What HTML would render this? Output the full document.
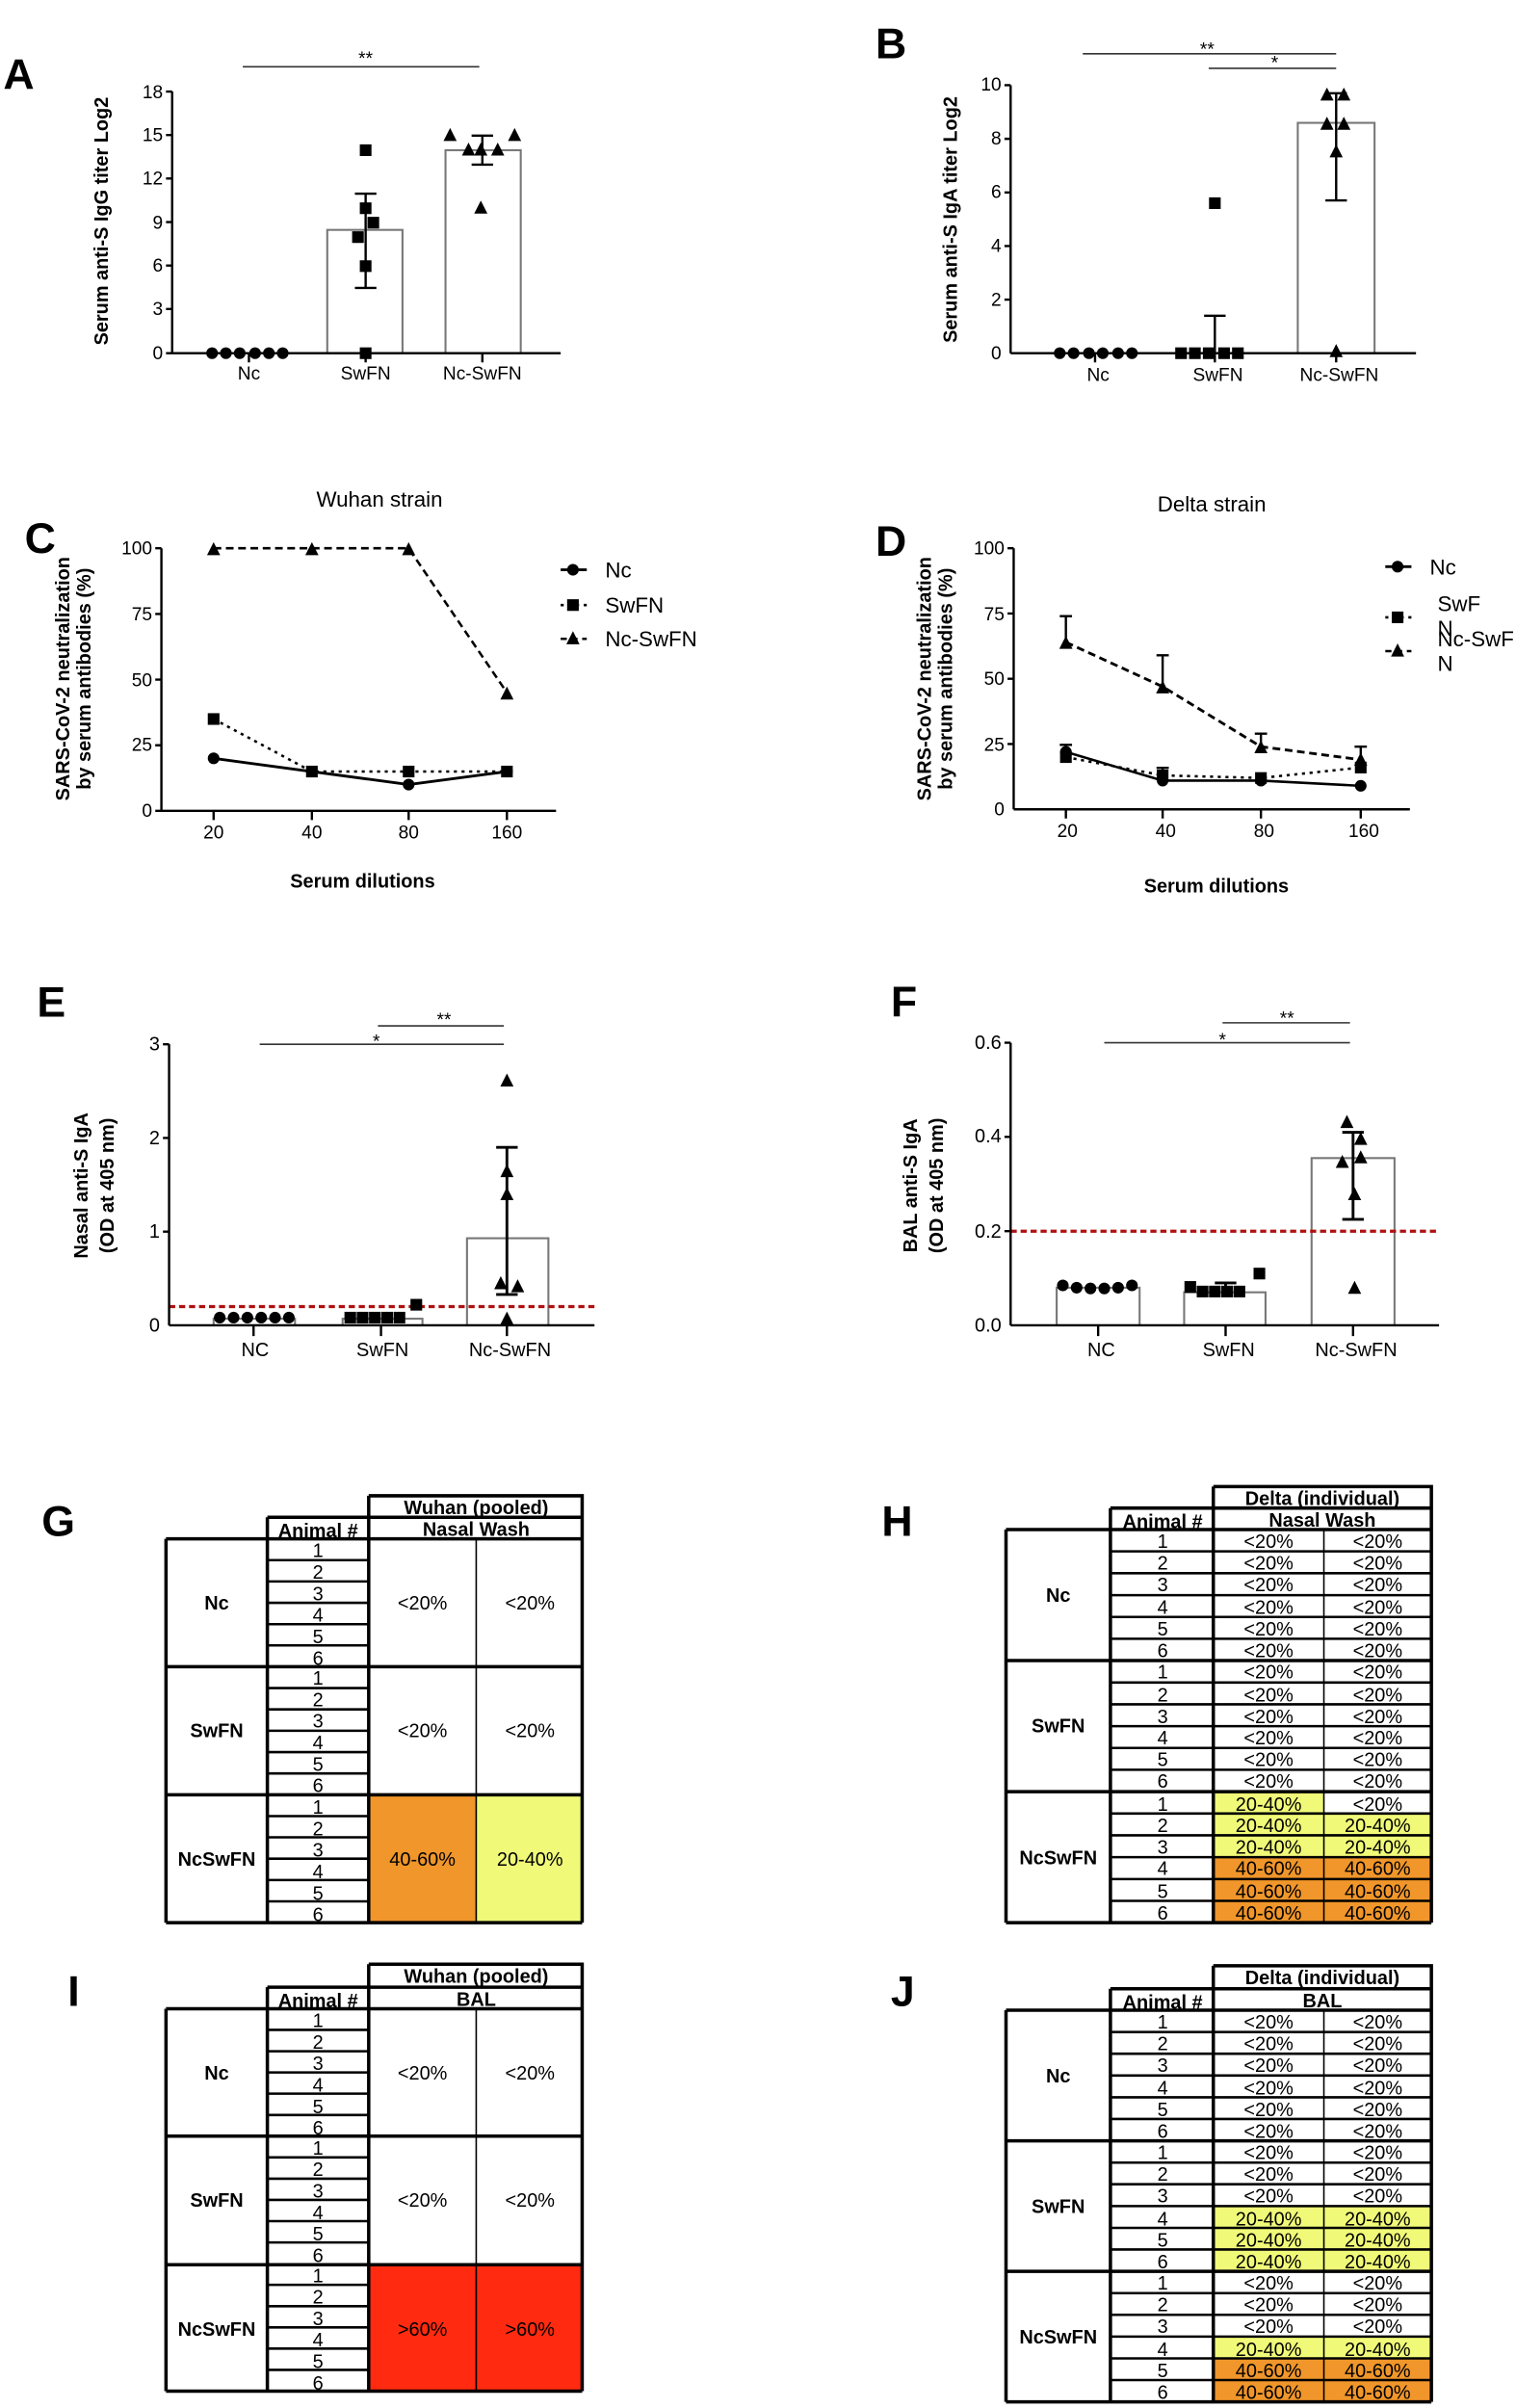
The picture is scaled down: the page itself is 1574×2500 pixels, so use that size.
<!DOCTYPE html>
<html><head><meta charset="utf-8"><style>
html,body{margin:0;padding:0;background:#fff}
svg{display:block}
text{font-family:"Liberation Sans",sans-serif;fill:#000}
.L{font-size:28px;font-weight:bold}
.t{font-size:12px}
.yl{font-size:12.5px;font-weight:bold}
.tt{font-size:14px}
.tb{font-size:12.5px}
.tbb{font-size:12.5px;font-weight:bold}
.ax{stroke:#000;stroke-width:1.5;fill:none}
.bar{stroke:#777;stroke-width:1.3;fill:#fff}
.sig{stroke:#333;stroke-width:1}
.k{stroke:#000;fill:none}
</style></head><body>
<svg width="1574" height="2500" viewBox="0 0 987 1568" xmlns="http://www.w3.org/2000/svg">
<defs>
<circle id="c" r="3.8" fill="#000"/>
<rect id="s" x="-3.8" y="-3.8" width="7.6" height="7.6" fill="#000"/>
<path id="tr" d="M0,-5 L4.3,3.5 L-4.3,3.5Z" fill="#000"/>
</defs>

<!-- ===== Panel A ===== -->
<text class="L" x="2" y="58">A</text>
<line class="sig" x1="158" y1="43.5" x2="312" y2="43.5"/><text class="t" x="238" y="42" text-anchor="middle">**</text>
<rect class="bar" x="213" y="149.7" width="49" height="80.3"/>
<rect class="bar" x="290" y="97.8" width="49" height="132.2"/>
<path class="ax" d="M112,59.6V230M108,59.6H112M108,87.9H112M108,116.2H112M108,144.6H112M108,172.9H112M108,201.2H112M108,230H365M162,230V236M238,230V236M314,230V236"/>
<g class="t" text-anchor="end"><text x="106" y="234">0</text><text x="106" y="205">3</text><text x="106" y="177">6</text><text x="106" y="149">9</text><text x="106" y="120">12</text><text x="106" y="92">15</text><text x="106" y="64">18</text></g>
<g class="t" text-anchor="middle"><text x="162" y="247">Nc</text><text x="238" y="247">SwFN</text><text x="314" y="247">Nc-SwFN</text></g>
<text class="yl" transform="translate(70,144) rotate(-90)" text-anchor="middle">Serum anti-S IgG titer Log2</text>
<path class="k" stroke-width="1.5" d="M238,126.1V187.5M231,126.1H245M231,187.5H245M314,88.3V107.2M307,88.3H321M307,107.2H321"/>
<use href="#c" x="138" y="230"/><use href="#c" x="147" y="230"/><use href="#c" x="156" y="230"/><use href="#c" x="166" y="230"/><use href="#c" x="175" y="230"/><use href="#c" x="184" y="230"/>
<use href="#s" x="238" y="97.8"/><use href="#s" x="238" y="135.6"/><use href="#s" x="243" y="145"/><use href="#s" x="233" y="154.4"/><use href="#s" x="238" y="173.3"/><use href="#s" x="238" y="230"/>
<use href="#tr" x="293" y="88.3"/><use href="#tr" x="335" y="88.3"/><use href="#tr" x="305" y="97.8"/><use href="#tr" x="313" y="97.8"/><use href="#tr" x="324" y="97.8"/><use href="#tr" x="313" y="135.6"/>

<!-- ===== Panel B ===== -->
<text class="L" x="570" y="38">B</text>
<line class="sig" x1="705" y1="35" x2="870" y2="35"/><text class="t" x="786" y="36" text-anchor="middle">**</text>
<line class="sig" x1="787" y1="44.5" x2="870" y2="44.5"/><text class="t" x="830" y="45" text-anchor="middle">*</text>
<rect class="bar" x="845" y="80" width="50" height="150"/>
<path class="ax" d="M658,55.5V230M654,55.5H658M654,90.4H658M654,125.3H658M654,160.2H658M654,195.1H658M658,230H922M713,230V236M791,230V236M870,230V236"/>
<g class="t" text-anchor="end"><text x="652" y="234">0</text><text x="652" y="199">2</text><text x="652" y="164">4</text><text x="652" y="129">6</text><text x="652" y="94">8</text><text x="652" y="59">10</text></g>
<g class="t" text-anchor="middle"><text x="715" y="248">Nc</text><text x="793" y="248">SwFN</text><text x="872" y="248">Nc-SwFN</text></g>
<text class="yl" transform="translate(623,143) rotate(-90)" text-anchor="middle">Serum anti-S IgA titer Log2</text>
<path class="k" stroke-width="1.5" d="M791,205.6V230M784,205.6H798M870,60.7V130.5M863,60.7H877M863,130.5H877"/>
<use href="#c" x="690" y="230"/><use href="#c" x="699" y="230"/><use href="#c" x="709" y="230"/><use href="#c" x="718" y="230"/><use href="#c" x="728" y="230"/><use href="#c" x="737" y="230"/>
<use href="#s" x="769" y="230"/><use href="#s" x="778" y="230"/><use href="#s" x="787" y="230"/><use href="#s" x="797" y="230"/><use href="#s" x="806" y="230"/><use href="#s" x="791" y="132.3"/>
<use href="#tr" x="864" y="62"/><use href="#tr" x="875" y="62"/><use href="#tr" x="864" y="81"/><use href="#tr" x="875" y="81"/><use href="#tr" x="870" y="99"/><use href="#tr" x="870" y="229"/>

<!-- ===== Panel C ===== -->
<text class="tt" x="247" y="330" text-anchor="middle">Wuhan strain</text>
<text class="L" x="16" y="360">C</text>
<path class="ax" d="M105,357V528M101,357H105M101,399.8H105M101,442.5H105M101,485.3H105M101,528H362M139,528V534M203,528V534M266,528V534M330,528V534"/>
<g class="t" text-anchor="end"><text x="99" y="532">0</text><text x="99" y="489">25</text><text x="99" y="447">50</text><text x="99" y="404">75</text><text x="99" y="361">100</text></g>
<g class="t" text-anchor="middle"><text x="139" y="546">20</text><text x="203" y="546">40</text><text x="266" y="546">80</text><text x="330" y="546">160</text></g>
<text class="yl" x="236" y="578" text-anchor="middle">Serum dilutions</text>
<text class="yl" transform="translate(45,442) rotate(-90)" text-anchor="middle">SARS-CoV-2 neutralization</text>
<text class="yl" transform="translate(59,442) rotate(-90)" text-anchor="middle">by serum antibodies  (%)</text>
<polyline class="k" stroke-width="1.8" points="139,493.8 203,502.4 266,510.9 330,502.4"/>
<polyline class="k" stroke-width="1.6" stroke-dasharray="2,3" points="139,468.2 203,502.4 266,502.4 330,502.4"/>
<polyline class="k" stroke-width="1.6" stroke-dasharray="5,3" points="139,357 203,357 266,357 330,451"/>
<use href="#c" x="139" y="493.8"/><use href="#c" x="203" y="502.4"/><use href="#c" x="266" y="510.9"/><use href="#c" x="330" y="502.4"/>
<use href="#s" x="139" y="468.2"/><use href="#s" x="203" y="502.4"/><use href="#s" x="266" y="502.4"/><use href="#s" x="330" y="502.4"/>
<use href="#tr" x="139" y="358"/><use href="#tr" x="203" y="358"/><use href="#tr" x="266" y="358"/><use href="#tr" x="330" y="452"/>
<line class="k" stroke-width="1.8" x1="365" y1="371" x2="382" y2="371"/><use href="#c" x="373" y="371"/><text class="tt" x="394" y="376">Nc</text>
<line class="k" stroke-width="1.6" stroke-dasharray="2,3" x1="365" y1="394" x2="382" y2="394"/><use href="#s" x="373" y="394"/><text class="tt" x="394" y="399">SwFN</text>
<line class="k" stroke-width="1.6" stroke-dasharray="4,3" x1="365" y1="416" x2="382" y2="416"/><use href="#tr" x="373" y="416"/><text class="tt" x="394" y="421">Nc-SwFN</text>

<!-- ===== Panel D ===== -->
<text class="tt" x="789" y="333" text-anchor="middle">Delta strain</text>
<text class="L" x="570" y="362">D</text>
<path class="ax" d="M660,357V527M656,357H660M656,399.5H660M656,442H660M656,484.5H660M660,527H918M694,527V533M757,527V533M821,527V533M886,527V533"/>
<g class="t" text-anchor="end"><text x="654" y="531">0</text><text x="654" y="489">25</text><text x="654" y="446">50</text><text x="654" y="404">75</text><text x="654" y="361">100</text></g>
<g class="t" text-anchor="middle"><text x="695" y="545">20</text><text x="759" y="545">40</text><text x="823" y="545">80</text><text x="888" y="545">160</text></g>
<text class="yl" x="792" y="581" text-anchor="middle">Serum dilutions</text>
<text class="yl" transform="translate(606,442) rotate(-90)" text-anchor="middle">SARS-CoV-2 neutralization</text>
<text class="yl" transform="translate(620,442) rotate(-90)" text-anchor="middle">by serum antibodies  (%)</text>
<path class="k" stroke-width="1.5" d="M694,401.2V418M690,401.2H698M757,426.7V447M753,426.7H761M821,477.7V486M817,477.7H825M886,486.2V495M882,486.2H890M694,485V490M690,485H698M757,500V505M753,500H761"/>
<polyline class="k" stroke-width="1.6" points="694,489.6 757,508.3 821,508.3 886,511.7"/>
<polyline class="k" stroke-width="1.6" stroke-dasharray="2,3" points="694,493 757,504.9 821,506.6 886,499.8"/>
<polyline class="k" stroke-width="1.8" stroke-dasharray="5,3" points="694,418.2 757,447.1 821,486.2 886,494.7"/>
<use href="#c" x="694" y="489.6"/><use href="#c" x="757" y="508.3"/><use href="#c" x="821" y="508.3"/><use href="#c" x="886" y="511.7"/>
<use href="#s" x="694" y="493"/><use href="#s" x="757" y="504.9"/><use href="#s" x="821" y="506.6"/><use href="#s" x="886" y="499.8"/>
<use href="#tr" x="694" y="419"/><use href="#tr" x="757" y="448"/><use href="#tr" x="821" y="487"/><use href="#tr" x="886" y="495"/>
<line class="k" stroke-width="1.8" x1="902" y1="369" x2="919" y2="369"/><use href="#c" x="910" y="369"/><text class="tt" x="931" y="374">Nc</text>
<line class="k" stroke-width="1.6" stroke-dasharray="2,3" x1="902" y1="402" x2="919" y2="402"/><use href="#s" x="910" y="402"/><text class="tt" x="936" y="398">SwF</text><text class="tt" x="936" y="414">N</text>
<line class="k" stroke-width="1.6" stroke-dasharray="4,3" x1="902" y1="424" x2="919" y2="424"/><use href="#tr" x="910" y="424"/><text class="tt" x="936" y="421">Nc-SwF</text><text class="tt" x="936" y="437">N</text>

<!-- ===== Panel E ===== -->
<text class="L" x="24" y="662">E</text>
<line class="sig" x1="246" y1="668" x2="328" y2="668"/><text class="t" x="289" y="668" text-anchor="middle">**</text>
<line class="sig" x1="169" y1="680" x2="328" y2="680"/><text class="t" x="245" y="682" text-anchor="middle">*</text>
<rect class="bar" x="139" y="858.7" width="53" height="4.3"/>
<rect class="bar" x="223" y="858.7" width="52" height="4.3"/>
<rect class="bar" x="304" y="806.3" width="53" height="56.7"/>
<line x1="110" y1="850.8" x2="387" y2="850.8" stroke="#b01010" stroke-width="2" stroke-dasharray="4,2.5"/>
<path class="ax" d="M110,680V863M106,680H110M106,741H110M106,802H110M110,863H387M165,863V870M248,863V870M330,863V870"/>
<g class="t" text-anchor="end" style="font-size:12.5px"><text x="104" y="867">0</text><text x="104" y="806">1</text><text x="104" y="745">2</text><text x="104" y="684">3</text></g>
<g class="tb" text-anchor="middle"><text x="166" y="883">NC</text><text x="249" y="883">SwFN</text><text x="332" y="883">Nc-SwFN</text></g>
<text class="yl" transform="translate(57,772) rotate(-90)" text-anchor="middle">Nasal anti-S IgA</text>
<text class="yl" transform="translate(74,772) rotate(-90)" text-anchor="middle">(OD at  405 nm)</text>
<path class="k" stroke-width="1.8" d="M330,747.1V842.9M323,747.1H337M323,842.9H337"/>
<use href="#c" x="143" y="858"/><use href="#c" x="152" y="858"/><use href="#c" x="161" y="858"/><use href="#c" x="170" y="858"/><use href="#c" x="179" y="858"/><use href="#c" x="188" y="858"/>
<use href="#s" x="228" y="858"/><use href="#s" x="236" y="858"/><use href="#s" x="244" y="858"/><use href="#s" x="252" y="858"/><use href="#s" x="260" y="858"/><use href="#s" x="271" y="849.6"/>
<use href="#tr" x="330" y="704"/><use href="#tr" x="330" y="763"/><use href="#tr" x="330" y="778"/><use href="#tr" x="326" y="836"/><use href="#tr" x="337" y="838"/><use href="#tr" x="330" y="859"/>

<!-- ===== Panel F ===== -->
<text class="L" x="580" y="662">F</text>
<line class="sig" x1="796" y1="666" x2="879" y2="666"/><text class="t" x="838" y="667" text-anchor="middle">**</text>
<line class="sig" x1="719" y1="679" x2="879" y2="679"/><text class="t" x="796" y="681" text-anchor="middle">*</text>
<rect class="bar" x="688" y="838.5" width="54" height="24.5"/>
<rect class="bar" x="771" y="841.5" width="53" height="21.5"/>
<rect class="bar" x="854" y="754.1" width="54" height="108.9"/>
<line x1="658" y1="801.7" x2="937" y2="801.7" stroke="#b01010" stroke-width="2" stroke-dasharray="4,2.5"/>
<path class="ax" d="M658,679V863M654,679H658M654,740.3H658M654,801.7H658M658,863H937M715,863V870M798,863V870M881,863V870"/>
<g class="t" text-anchor="end" style="font-size:12.5px"><text x="652" y="867">0.0</text><text x="652" y="806">0.2</text><text x="652" y="744">0.4</text><text x="652" y="683">0.6</text></g>
<g class="tb" text-anchor="middle"><text x="717" y="883">NC</text><text x="800" y="883">SwFN</text><text x="883" y="883">Nc-SwFN</text></g>
<text class="yl" transform="translate(597,772) rotate(-90)" text-anchor="middle">BAL anti-S IgA</text>
<text class="yl" transform="translate(614,772) rotate(-90)" text-anchor="middle">(OD at  405 nm)</text>
<path class="k" stroke-width="1.8" d="M881,737.3V794M874,737.3H888M874,794H888M798,835.4V841M791,835.4H805"/>
<use href="#c" x="692" y="837"/><use href="#c" x="701" y="838.5"/><use href="#c" x="710" y="839"/><use href="#c" x="719" y="839"/><use href="#c" x="728" y="838.5"/><use href="#c" x="737" y="837"/>
<use href="#s" x="775" y="838"/><use href="#s" x="783" y="841"/><use href="#s" x="791" y="841"/><use href="#s" x="799" y="841"/><use href="#s" x="807" y="841"/><use href="#s" x="820" y="829.3"/>
<use href="#tr" x="877" y="731"/><use href="#tr" x="886" y="742"/><use href="#tr" x="886" y="754"/><use href="#tr" x="874" y="757"/><use href="#tr" x="882" y="778"/><use href="#tr" x="882" y="839"/>

<!-- ===== Table G ===== -->
<text class="L" x="27" y="1000">G</text>
<rect x="240" y="1168.7" width="70" height="83.3" fill="#F0962A"/>
<rect x="310" y="1168.7" width="69" height="83.3" fill="#F0FA78"/>
<path class="k" stroke-width="2.2" d="M240,974H379V1252M240,974V1252M174,988H379M174,988V1252M240,1002H379M108,1002H240M108,1002V1252M108,1085.3H379M108,1168.7H379M108,1252H379"/>
<path class="k" stroke-width="1" d="M310,1002V1252"/>
<path class="k" stroke-width="1.6" d="M174,1015.9H240M174,1029.8H240M174,1043.7H240M174,1057.6H240M174,1071.4H240M174,1099.2H240M174,1113.1H240M174,1127H240M174,1140.9H240M174,1154.8H240M174,1182.6H240M174,1196.4H240M174,1210.3H240M174,1224.2H240M174,1238.1H240"/>
<g class="tbb" text-anchor="middle"><text x="310" y="986">Wuhan (pooled)</text><text x="310" y="1000">Nasal Wash</text><text x="207" y="1001">Animal #</text>
<text x="141" y="1048">Nc</text><text x="141" y="1131">SwFN</text><text x="141" y="1215">NcSwFN</text></g>
<g class="tb" text-anchor="middle">
<text x="207" y="1014">1</text><text x="207" y="1028">2</text><text x="207" y="1042">3</text><text x="207" y="1056">4</text><text x="207" y="1070">5</text><text x="207" y="1084">6</text>
<text x="207" y="1097">1</text><text x="207" y="1111">2</text><text x="207" y="1125">3</text><text x="207" y="1139">4</text><text x="207" y="1153">5</text><text x="207" y="1167">6</text>
<text x="207" y="1181">1</text><text x="207" y="1195">2</text><text x="207" y="1209">3</text><text x="207" y="1223">4</text><text x="207" y="1237">5</text><text x="207" y="1251">6</text>
<text x="275" y="1048">&lt;20%</text><text x="345" y="1048">&lt;20%</text><text x="275" y="1131">&lt;20%</text><text x="345" y="1131">&lt;20%</text><text x="275" y="1215">40-60%</text><text x="345" y="1215">20-40%</text></g>

<!-- ===== Table I ===== -->
<text class="L" x="44" y="1306">I</text>
<rect x="240" y="1474" width="139" height="83" fill="#FF2A10"/>
<path class="k" stroke-width="2.2" d="M240,1279H379V1557M240,1279V1557M174,1294H379M174,1294V1557M240,1308H379M108,1308H240M108,1308V1557M108,1391H379M108,1474.7H379M108,1557H379"/>
<path class="k" stroke-width="1" d="M310,1308V1557"/>
<path class="k" stroke-width="1.6" d="M174,1321.8H240M174,1335.7H240M174,1349.5H240M174,1363.3H240M174,1377.2H240M174,1404.8H240M174,1418.7H240M174,1432.5H240M174,1446.3H240M174,1460.2H240M174,1487.8H240M174,1501.7H240M174,1515.5H240M174,1529.3H240M174,1543.2H240"/>
<g class="tbb" text-anchor="middle"><text x="310" y="1291">Wuhan (pooled)</text><text x="310" y="1306">BAL</text><text x="207" y="1307">Animal #</text>
<text x="141" y="1354">Nc</text><text x="141" y="1437">SwFN</text><text x="141" y="1521">NcSwFN</text></g>
<g class="tb" text-anchor="middle">
<text x="207" y="1320">1</text><text x="207" y="1334">2</text><text x="207" y="1348">3</text><text x="207" y="1362">4</text><text x="207" y="1376">5</text><text x="207" y="1390">6</text>
<text x="207" y="1403">1</text><text x="207" y="1417">2</text><text x="207" y="1431">3</text><text x="207" y="1445">4</text><text x="207" y="1459">5</text><text x="207" y="1473">6</text>
<text x="207" y="1486">1</text><text x="207" y="1500">2</text><text x="207" y="1514">3</text><text x="207" y="1528">4</text><text x="207" y="1542">5</text><text x="207" y="1556">6</text>
<text x="275" y="1354">&lt;20%</text><text x="345" y="1354">&lt;20%</text><text x="275" y="1437">&lt;20%</text><text x="345" y="1437">&lt;20%</text><text x="275" y="1521">&gt;60%</text><text x="345" y="1521">&gt;60%</text></g>

<!-- ===== Table H ===== -->
<text class="L" x="574" y="1000">H</text>
<rect x="790" y="1166.7" width="72" height="14.2" fill="#F0FA78"/>
<rect x="790" y="1180.9" width="142" height="28.4" fill="#F0FA78"/>
<rect x="790" y="1209.3" width="142" height="42.7" fill="#F0962A"/>
<path class="k" stroke-width="2.2" d="M790,968H932V1252M790,968V1252M723,982H932M723,982V1252M790,996H932M655,996H790M655,996V1252M655,1081.3H932M655,1166.7H932M655,1252H932"/>
<path class="k" stroke-width="1" d="M862,996V1252"/>
<path class="k" stroke-width="1.6" d="M723,1010.2H932M723,1024.4H932M723,1038.7H932M723,1052.9H932M723,1067.1H932M723,1095.6H932M723,1109.8H932M723,1124H932M723,1138.2H932M723,1152.4H932M723,1180.9H932M723,1195.1H932M723,1209.3H932M723,1223.6H932M723,1237.8H932"/>
<g class="tbb" text-anchor="middle"><text x="861" y="980">Delta (individual)</text><text x="861" y="994">Nasal Wash</text><text x="757" y="995">Animal #</text>
<text x="689" y="1043">Nc</text><text x="689" y="1128">SwFN</text><text x="689" y="1214">NcSwFN</text></g>
<g class="tb" text-anchor="middle">
<text x="757" y="1008">1</text><text x="757" y="1022">2</text><text x="757" y="1036">3</text><text x="757" y="1051">4</text><text x="757" y="1065">5</text><text x="757" y="1079">6</text>
<text x="757" y="1093">1</text><text x="757" y="1108">2</text><text x="757" y="1122">3</text><text x="757" y="1136">4</text><text x="757" y="1150">5</text><text x="757" y="1164">6</text>
<text x="757" y="1179">1</text><text x="757" y="1193">2</text><text x="757" y="1207">3</text><text x="757" y="1221">4</text><text x="757" y="1236">5</text><text x="757" y="1250">6</text>
</g>
<g class="tb" text-anchor="middle">
<text x="826" y="1008">&lt;20%</text><text x="897" y="1008">&lt;20%</text>
<text x="826" y="1022">&lt;20%</text><text x="897" y="1022">&lt;20%</text>
<text x="826" y="1036">&lt;20%</text><text x="897" y="1036">&lt;20%</text>
<text x="826" y="1051">&lt;20%</text><text x="897" y="1051">&lt;20%</text>
<text x="826" y="1065">&lt;20%</text><text x="897" y="1065">&lt;20%</text>
<text x="826" y="1079">&lt;20%</text><text x="897" y="1079">&lt;20%</text>
<text x="826" y="1093">&lt;20%</text><text x="897" y="1093">&lt;20%</text>
<text x="826" y="1108">&lt;20%</text><text x="897" y="1108">&lt;20%</text>
<text x="826" y="1122">&lt;20%</text><text x="897" y="1122">&lt;20%</text>
<text x="826" y="1136">&lt;20%</text><text x="897" y="1136">&lt;20%</text>
<text x="826" y="1150">&lt;20%</text><text x="897" y="1150">&lt;20%</text>
<text x="826" y="1164">&lt;20%</text><text x="897" y="1164">&lt;20%</text>
<text x="826" y="1179">20-40%</text><text x="897" y="1179">&lt;20%</text>
<text x="826" y="1193">20-40%</text><text x="897" y="1193">20-40%</text>
<text x="826" y="1207">20-40%</text><text x="897" y="1207">20-40%</text>
<text x="826" y="1221">40-60%</text><text x="897" y="1221">40-60%</text>
<text x="826" y="1236">40-60%</text><text x="897" y="1236">40-60%</text>
<text x="826" y="1250">40-60%</text><text x="897" y="1250">40-60%</text>
</g>

<!-- ===== Table J ===== -->
<text class="L" x="580" y="1306">J</text>
<rect x="790" y="1436.5" width="142" height="42.5" fill="#F0FA78"/>
<rect x="790" y="1521.5" width="142" height="14.2" fill="#F0FA78"/>
<rect x="790" y="1535.7" width="142" height="28.3" fill="#F0962A"/>
<path class="k" stroke-width="2.2" d="M790,1280H932V1564M790,1280V1564M723,1295H932M723,1295V1564M790,1309H932M655,1309H790M655,1309V1564M655,1394H932M655,1479H932M655,1564H932"/>
<path class="k" stroke-width="1" d="M862,1309V1564"/>
<path class="k" stroke-width="1.6" d="M723,1323.2H932M723,1337.3H932M723,1351.5H932M723,1365.7H932M723,1379.8H932M723,1408.2H932M723,1422.3H932M723,1436.5H932M723,1450.7H932M723,1464.8H932M723,1493.2H932M723,1507.3H932M723,1521.5H932M723,1535.7H932M723,1549.8H932"/>
<g class="tbb" text-anchor="middle"><text x="861" y="1292">Delta (individual)</text><text x="861" y="1307">BAL</text><text x="757" y="1308">Animal #</text>
<text x="689" y="1356">Nc</text><text x="689" y="1441">SwFN</text><text x="689" y="1526">NcSwFN</text></g>
<g class="tb" text-anchor="middle">
<text x="757" y="1321">1</text><text x="757" y="1335">2</text><text x="757" y="1349">3</text><text x="757" y="1364">4</text><text x="757" y="1378">5</text><text x="757" y="1392">6</text>
<text x="757" y="1406">1</text><text x="757" y="1420">2</text><text x="757" y="1434">3</text><text x="757" y="1449">4</text><text x="757" y="1463">5</text><text x="757" y="1477">6</text>
<text x="757" y="1491">1</text><text x="757" y="1505">2</text><text x="757" y="1519">3</text><text x="757" y="1534">4</text><text x="757" y="1548">5</text><text x="757" y="1562">6</text>
</g>
<g class="tb" text-anchor="middle">
<text x="826" y="1321">&lt;20%</text><text x="897" y="1321">&lt;20%</text>
<text x="826" y="1335">&lt;20%</text><text x="897" y="1335">&lt;20%</text>
<text x="826" y="1349">&lt;20%</text><text x="897" y="1349">&lt;20%</text>
<text x="826" y="1364">&lt;20%</text><text x="897" y="1364">&lt;20%</text>
<text x="826" y="1378">&lt;20%</text><text x="897" y="1378">&lt;20%</text>
<text x="826" y="1392">&lt;20%</text><text x="897" y="1392">&lt;20%</text>
<text x="826" y="1406">&lt;20%</text><text x="897" y="1406">&lt;20%</text>
<text x="826" y="1420">&lt;20%</text><text x="897" y="1420">&lt;20%</text>
<text x="826" y="1434">&lt;20%</text><text x="897" y="1434">&lt;20%</text>
<text x="826" y="1449">20-40%</text><text x="897" y="1449">20-40%</text>
<text x="826" y="1463">20-40%</text><text x="897" y="1463">20-40%</text>
<text x="826" y="1477">20-40%</text><text x="897" y="1477">20-40%</text>
<text x="826" y="1491">&lt;20%</text><text x="897" y="1491">&lt;20%</text>
<text x="826" y="1505">&lt;20%</text><text x="897" y="1505">&lt;20%</text>
<text x="826" y="1519">&lt;20%</text><text x="897" y="1519">&lt;20%</text>
<text x="826" y="1534">20-40%</text><text x="897" y="1534">20-40%</text>
<text x="826" y="1548">40-60%</text><text x="897" y="1548">40-60%</text>
<text x="826" y="1562">40-60%</text><text x="897" y="1562">40-60%</text>
</g>
</svg>
</body></html>
